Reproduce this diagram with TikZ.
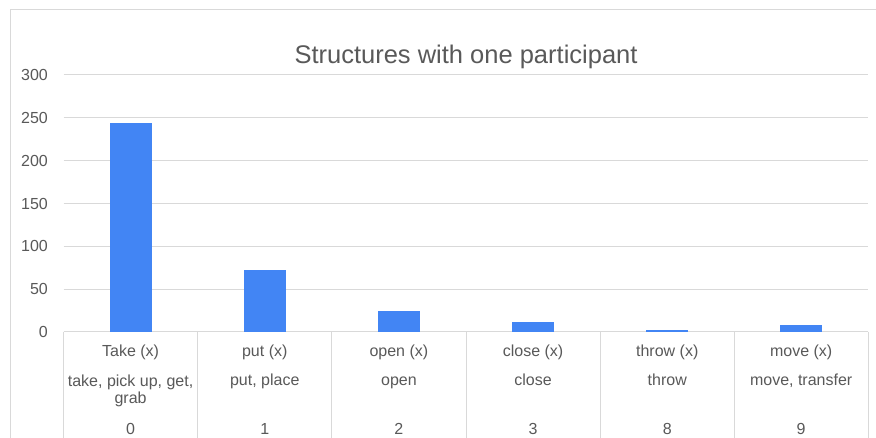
\documentclass[tikz,border=0pt]{standalone}
\usepackage{fontspec}
\setmainfont{Liberation Sans}
\definecolor{labelgray}{HTML}{595959}
\definecolor{gridgray}{HTML}{D9D9D9}
\definecolor{barblue}{HTML}{4285F4}
\begin{document}
\begin{tikzpicture}[x=1pt,y=-1pt,
  gridline/.style={draw=gridgray,line width=1pt},
  bar/.style={fill=barblue,draw=none},
  axislabel/.style={anchor=east,inner sep=0pt,text=labelgray,font=\fontsize{16}{18}\selectfont},
  celltext/.style={anchor=base,inner sep=0pt,text=labelgray,align=center,font=\fontsize{16}{17}\selectfont},
  charttitle/.style={anchor=base,inner sep=0pt,text=labelgray,font=\fontsize{25.5}{28}\selectfont}]
\useasboundingbox (0,0) rectangle (876,438);
\fill[white] (0,0) rectangle (876,438);

% outer chart frame
\draw[gridline] (10,438) -- (10,10) -- (876,10);

% title
\node[charttitle] (title) at (466,64) {Structures with one participant};

% horizontal grid lines and value labels (50 units = 42.83)
\foreach \v [count=\i from 0] in {0,50,100,150,200,250,300} {
  \coordinate (gl\i) at (63.5,{332-\v*0.8567});
  \coordinate (gr\i) at (868,{332-\v*0.8567});
  \draw[gridline] (gl\i) -- (gr\i);
  \node[axislabel] (yl\i) at (48,{332-\v*0.8567}) {\v};
}

% category table borders
\foreach \x [count=\i] in {63.5,197.7,331.8,466,600.2,734.3,868} {
  \coordinate (ct\i) at (\x,332);
  \coordinate (cb\i) at (\x,438);
  \draw[gridline] (ct\i) -- (cb\i);
}

% bars
\foreach \c/\v in {130.6/244, 264.75/72, 398.9/24, 533.1/12, 667.25/2, 801.15/8} {
  \fill[bar] ({\c-21},332) rectangle ({\c+21},{332-\v*0.8567});
}

% category cells (a multi-line node sits on the baseline of its last line)
\node[celltext] (n1) at (130.6,357) {Take (x)};
\node[celltext] (s1) at (130.6,403) {take, pick up, get,\\grab};
\node[celltext] (k1) at (130.6,434) {0};

\node[celltext] (n2) at (264.75,357) {put (x)};
\node[celltext] (s2) at (264.75,386) {put, place};
\node[celltext] (k2) at (264.75,434) {1};

\node[celltext] (n3) at (398.9,357) {open (x)};
\node[celltext] (s3) at (398.9,386) {open};
\node[celltext] (k3) at (398.9,434) {2};

\node[celltext] (n4) at (533.1,357) {close (x)};
\node[celltext] (s4) at (533.1,386) {close};
\node[celltext] (k4) at (533.1,434) {3};

\node[celltext] (n5) at (667.25,357) {throw (x)};
\node[celltext] (s5) at (667.25,386) {throw};
\node[celltext] (k5) at (667.25,434) {8};

\node[celltext] (n6) at (801.15,357) {move (x)};
\node[celltext] (s6) at (801.15,386) {move, transfer};
\node[celltext] (k6) at (801.15,434) {9};
\end{tikzpicture}
\end{document}
